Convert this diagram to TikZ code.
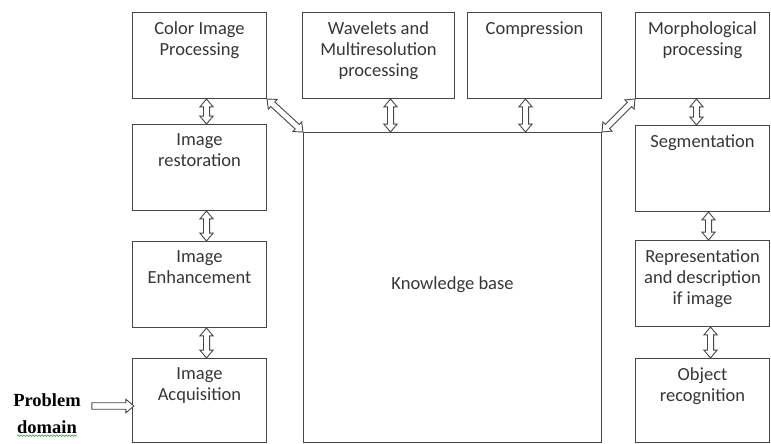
\documentclass[tikz,border=0pt]{standalone}
\usepackage{fontspec}
\setmainfont{Carlito}
\newfontfamily\probfont{Liberation Serif}
\usetikzlibrary{shapes.arrows, calc, decorations.pathmorphing}
\definecolor{edgegray}{HTML}{474747}
\definecolor{labelgray}{HTML}{363636}
\definecolor{spellgreen}{HTML}{4C9A4C}

% hollow block arrow stretched between two points
\newcommand{\shapelink}[3][hollowdbl]{%
  \path let \p1=#2, \p2=#3,
    \n1={veclen(\x2-\x1,\y2-\y1)}, \n2={atan2(\y2-\y1,\x2-\x1)} in
    node[#1, minimum height=\n1, rotate=\n2] at ($(\p1)!0.5!(\p2)$) {};}

\begin{document}
\begin{tikzpicture}[x=1pt, y=-1pt,
  every node/.style={font=\fontsize{18.5}{21}\selectfont, text=labelgray},
  stagebox/.style={rectangle, draw=edgegray, line width=1pt, anchor=north west, minimum width=134pt, minimum height=86pt, inner sep=0pt},
  stagetext/.style={anchor=north, align=center, inner sep=0pt, yshift=-9.5pt},
  hollowdbl/.style={double arrow, draw=edgegray, fill=white, line width=0.9pt, inner xsep=0pt, inner ysep=2.6pt, minimum width=0pt, double arrow head extend=3.5pt, double arrow tip angle=80},
  hollowsgl/.style={single arrow, draw=edgegray, fill=white, line width=0.9pt, inner xsep=0pt, inner ysep=2.8pt, minimum width=0pt, single arrow head extend=3.5pt, single arrow tip angle=80},
  probtext/.style={font=\probfont\bfseries\fontsize{18.5}{20}\selectfont, text=black, inner sep=0pt},
]
\useasboundingbox (0,0) rectangle (771,444);

% Left column
\node[stagebox, label={[stagetext]north:{Color Image\\Processing}}] (color) at (132,12) {};
\node[stagebox, label={[stagetext]north:{Image\\restoration}}] (restor) at (132,124) {};
\node[stagebox, label={[stagetext]north:{Image\\Enhancement}}] (enhance) at (132,241) {};
\node[stagebox, minimum height=84pt, label={[stagetext]north:{Image\\Acquisition}}] (acquire) at (132,358) {};

% Top middle
\node[stagebox, minimum width=152pt, label={[stagetext]north:{Wavelets and\\Multiresolution\\processing}}] (wavelet) at (302,12) {};
\node[stagebox, label={[stagetext]north:{Compression}}] (compress) at (467,12) {};

% Right column
\node[stagebox, label={[stagetext]north:{Morphological\\processing}}] (morph) at (635,12) {};
\node[stagebox, label={[stagetext]north:{Segmentation}}] (segment) at (635,125) {};
\node[stagebox, label={[stagetext]north:{Representation\\and description\\if image}}] (repr) at (635,240) {};
\node[stagebox, minimum height=84pt, label={[stagetext]north:{Object\\recognition}}] (objrec) at (635,358) {};

% Knowledge base
\node[stagebox, minimum width=298pt, minimum height=310pt] (kb) at (303,132) {};
\node at ($(kb.center)+(0,-3)$) (kbtext) {Knowledge base};

% Links in the left column
\shapelink{([xshift=7pt]color.south)}{([xshift=7pt]restor.north)}
\shapelink{([xshift=7pt]restor.south)}{([xshift=7pt]enhance.north)}
\shapelink{([xshift=7pt]enhance.south)}{([xshift=7pt]acquire.north)}

% Links in the right column
\shapelink{([xshift=-6pt]morph.south)}{([xshift=-6pt]segment.north)}
\shapelink{([xshift=6pt]segment.south)}{([xshift=6pt]repr.north)}
\shapelink{([xshift=8pt]repr.south)}{([xshift=8pt]objrec.north)}

% Links into the knowledge base
\coordinate (wavefoot) at ($(wavelet.south)+(12,0)$);
\coordinate (compfoot) at ($(compress.south)+(-9,0)$);
\shapelink{(wavefoot)}{(wavefoot |- kb.north)}
\shapelink{(compfoot)}{(compfoot |- kb.north)}
\shapelink{(color.south east)}{(kb.north west)}
\shapelink{(morph.south west)}{(kb.north east)}

% Problem domain input
\node[probtext] (problem) at (47,400) {Problem};
\node[probtext] (domain) at (47,427) {domain};
\draw[spellgreen, line width=0.6pt, decorate, decoration={snake, amplitude=0.8pt, segment length=3pt}]
  ([yshift=-2pt]domain.south west) -- ([yshift=-2pt]domain.south east);
\coordinate (probtail) at (90,406);
\shapelink[hollowsgl]{(probtail)}{(probtail -| acquire.west)}

\end{tikzpicture}
\end{document}
